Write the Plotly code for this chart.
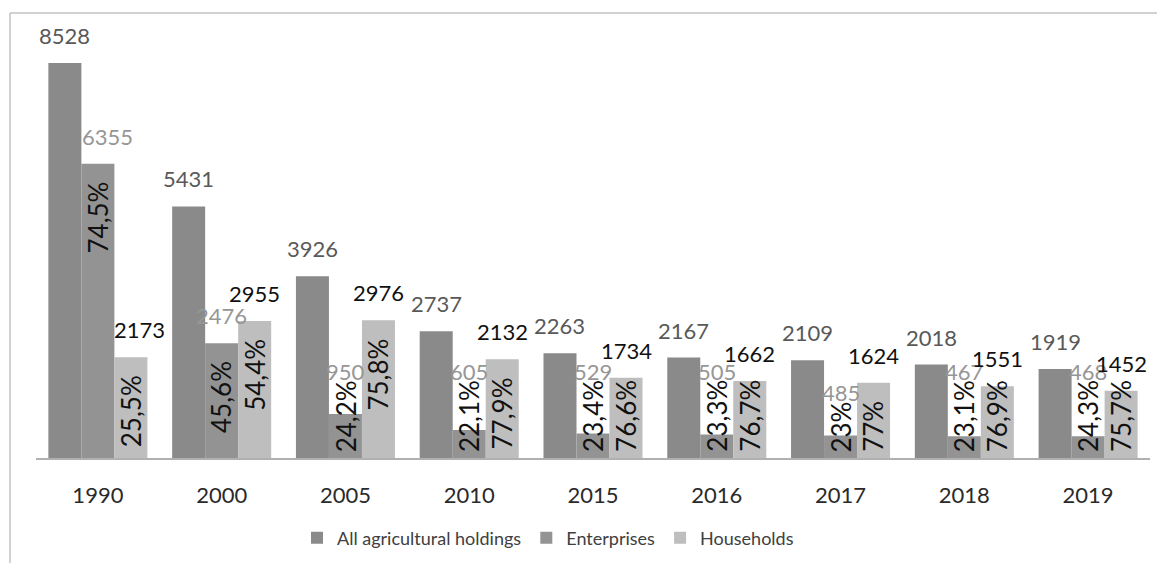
import plotly.graph_objects as go

years = ["1990", "2000", "2005", "2010", "2015", "2016", "2017", "2018", "2019"]
all_holdings = [8528, 5431, 3926, 2737, 2263, 2167, 2109, 2018, 1919]
enterprises = [6355, 2476, 950, 605, 529, 505, 485, 467, 468]
households = [2173, 2955, 2976, 2132, 1734, 1662, 1624, 1551, 1452]
ent_share = ["74,5%", "45,6%", "24,2%", "22,1%", "23,4%", "23,3%", "23%", "23,1%", "24,3%"]
hh_share = ["25,5%", "54,4%", "75,8%", "77,9%", "76,6%", "76,7%", "77%", "76,9%", "75,7%"]

# page / plot geometry (the html body adds an 8px margin around the figure)
OFF = 8
W, H = 1165 - OFF, 563 - OFF
ML, MR, MT, MB = 36 - OFF, 15, 40 - OFF, 105
YMAX = 9024
BARGAP = 0.2
FONT = "Lato, 'Liberation Sans', Arial"
PCT_SIZE = 26
VAL_SIZE = 22

plot_w = W - ML - MR
plot_h = H - MT - MB
ppu = plot_h / YMAX
bar_w = plot_w / len(years) * (1 - BARGAP) / 3

# rough glyph widths (em) for the rotated percent labels
glyph_w = {",": 0.25, "%": 0.86}


def text_len(s, size):
    return sum(glyph_w.get(c, 0.58) for c in s) * size


# small horizontal nudges of a few value labels, as in the source chart
nudge = {(0, 1): 10, (0, 2): 9}

fig = go.Figure()
series = [
    ("All agricultural holdings", all_holdings, "#8a8a8a"),
    ("Enterprises", enterprises, "#939393"),
    ("Households", households, "#bebebe"),
]
for name, vals, col in series:
    fig.add_trace(go.Bar(x=years, y=vals, name=name, marker=dict(color=col, line=dict(width=0))))

label_cols = ["#595959", "#969696", "#111111"]
annotations = []
for i, yr in enumerate(years):
    # category axis: annotations take the serial index of the category
    for k, (vals, shares) in enumerate([(all_holdings, None), (enterprises, ent_share), (households, hh_share)]):
        v = vals[i]
        h_px = v * ppu
        xs = (k - 1) * bar_w
        extra = 0
        if shares is not None:
            plen = text_len(shares[i], PCT_SIZE) + 6
            top_px = max(h_px - 16, plen)
            annotations.append(dict(
                x=i, y=v, xref="x", yref="y", text=shares[i], showarrow=False,
                textangle=-90, xanchor="center", yanchor="top", xshift=xs,
                yshift=top_px - h_px, font=dict(family=FONT, size=PCT_SIZE, color="#111111"),
            ))
            if k == 1:
                extra = max(0, plen - 2 - (h_px + 19))
        annotations.append(dict(
            x=i, y=v, xref="x", yref="y", text=str(v), showarrow=False,
            xanchor="center", yanchor="bottom", xshift=xs + nudge.get((i, k), 0),
            yshift=12 + extra,
            font=dict(family=FONT, size=VAL_SIZE, color=label_cols[k]),
        ))

# outer frame lines (top and left)
fx = (10 - OFF - ML) / plot_w
fy = (H - MB - (13 - OFF)) / plot_h
shapes = [
    dict(type="line", xref="paper", yref="paper", x0=fx, x1=1.05, y0=fy, y1=fy,
         line=dict(color="#c3c3c3", width=1.5)),
    dict(type="line", xref="paper", yref="paper", x0=fx, x1=fx, y0=fy, y1=-0.4,
         line=dict(color="#c3c3c3", width=1.5)),
]

fig.update_layout(
    width=W, height=H,
    margin=dict(l=ML, r=MR, t=MT, b=MB),
    paper_bgcolor="white", plot_bgcolor="white",
    barmode="group", bargap=BARGAP, bargroupgap=0,
    font=dict(family=FONT, color="#404040"),
    xaxis=dict(type="category", range=[-0.5, len(years) - 0.5], showline=True,
               linecolor="#b0b0b0", linewidth=2,
               showgrid=False, ticks="", ticklabelstandoff=17,
               tickfont=dict(family=FONT, size=22, color="#2a2a2a")),
    yaxis=dict(visible=False, range=[0, YMAX]),
    legend=dict(orientation="h", xref="container", yref="container",
                x=(548 - OFF) / W, xanchor="center",
                y=1 - (538 - OFF) / H, yanchor="middle",
                font=dict(family=FONT, size=18, color="#404040")),
    annotations=annotations,
    shapes=shapes,
)

fig.write_html("out.html")
